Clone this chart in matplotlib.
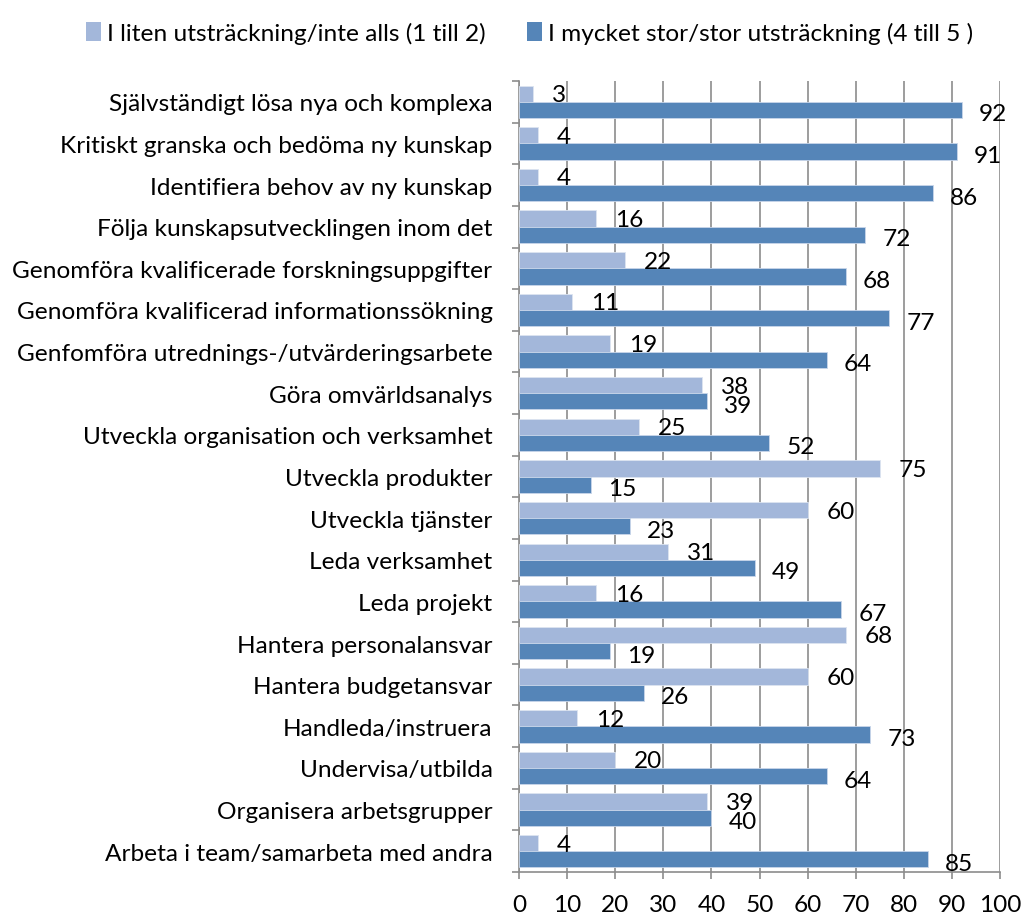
import matplotlib
matplotlib.use("Agg")
import matplotlib.pyplot as plt
import numpy as np
from matplotlib.ticker import FixedLocator
from matplotlib.patches import Patch

categories = [
    "Självständigt lösa nya och komplexa",
    "Kritiskt granska och bedöma ny kunskap",
    "Identifiera behov av ny kunskap",
    "Följa kunskapsutvecklingen inom det",
    "Genomföra kvalificerade forskningsuppgifter",
    "Genomföra kvalificerad informationssökning",
    "Genfomföra utrednings-/utvärderingsarbete",
    "Göra omvärldsanalys",
    "Utveckla organisation och verksamhet",
    "Utveckla produkter",
    "Utveckla tjänster",
    "Leda verksamhet",
    "Leda projekt",
    "Hantera personalansvar",
    "Hantera budgetansvar",
    "Handleda/instruera",
    "Undervisa/utbilda",
    "Organisera arbetsgrupper",
    "Arbeta i team/samarbeta med andra",
]
low_values = [3, 4, 4, 16, 22, 11, 19, 38, 25, 75, 60, 31, 16, 68, 60, 12, 20, 39, 4]
high_values = [92, 91, 86, 72, 68, 77, 64, 39, 52, 15, 23, 49, 67, 19, 26, 73, 64, 40, 85]
series_names = ["I liten utsträckning/inte alls (1 till 2)",
                "I mycket stor/stor utsträckning (4 till 5 )"]
x_ticks = list(range(0, 101, 10))

light = "#A3B7DA"
dark = "#5585B8"
grid_c = "#8C8C8C"

plt.rcParams['font.family'] = ['Lato', 'DejaVu Sans']
fs = 17.6

fig = plt.figure(figsize=(10.32, 9.2), dpi=100)
ax = fig.add_axes([519/1032, 1-873/920, (1000-519)/1032, (873-82)/920])

n = len(categories)
y = np.arange(n)
bh = 0.39
ax.barh(y - bh/2, low_values, height=bh, color=light, edgecolor="#DCE4F0", linewidth=0.6, zorder=3)
ax.barh(y + bh/2, high_values, height=bh, color=dark, edgecolor="#C9D6EA", linewidth=0.6, zorder=3)

for i in range(n):
    ax.annotate(str(low_values[i]), (low_values[i], y[i] - bh/2), xytext=(19, -1),
                textcoords="offset pixels", ha="left", va="center", fontsize=fs, zorder=4)
    ax.annotate(str(high_values[i]), (high_values[i], y[i] + bh/2), xytext=(17, -4),
                textcoords="offset pixels", ha="left", va="center", fontsize=fs, zorder=4)

ax.set_xlim(0, 100)
ax.set_ylim(n - 0.5, -0.5)
ax.set_xticks(x_ticks)
ax.set_xticklabels([str(t) for t in x_ticks], fontsize=fs)
ax.set_yticks(y)
ax.set_yticklabels(categories, fontsize=fs)
ax.yaxis.set_minor_locator(FixedLocator(np.arange(-0.5, n, 1.0)))
ax.tick_params(axis='y', which='major', length=0, pad=19)
ax.tick_params(axis='y', which='minor', length=5, color=grid_c, width=1.2)
ax.tick_params(axis='x', which='major', length=5, color=grid_c, width=1.2, pad=11)

ax.grid(axis='x', color=grid_c, linewidth=1.2, zorder=0)
for s in ['top', 'right']:
    ax.spines[s].set_visible(False)
for s in ['left', 'bottom']:
    ax.spines[s].set_color(grid_c)
    ax.spines[s].set_linewidth(1.2)

handles = [Patch(facecolor=light), Patch(facecolor=dark)]
fig.legend(handles, series_names, loc="upper left", bbox_to_anchor=(64/1032, 1-1/920),
           ncol=2, frameon=False, fontsize=fs, handlelength=0.6, handleheight=0.8,
           handletextpad=0.25, columnspacing=1.7)

fig.savefig("out.png", dpi=100)
